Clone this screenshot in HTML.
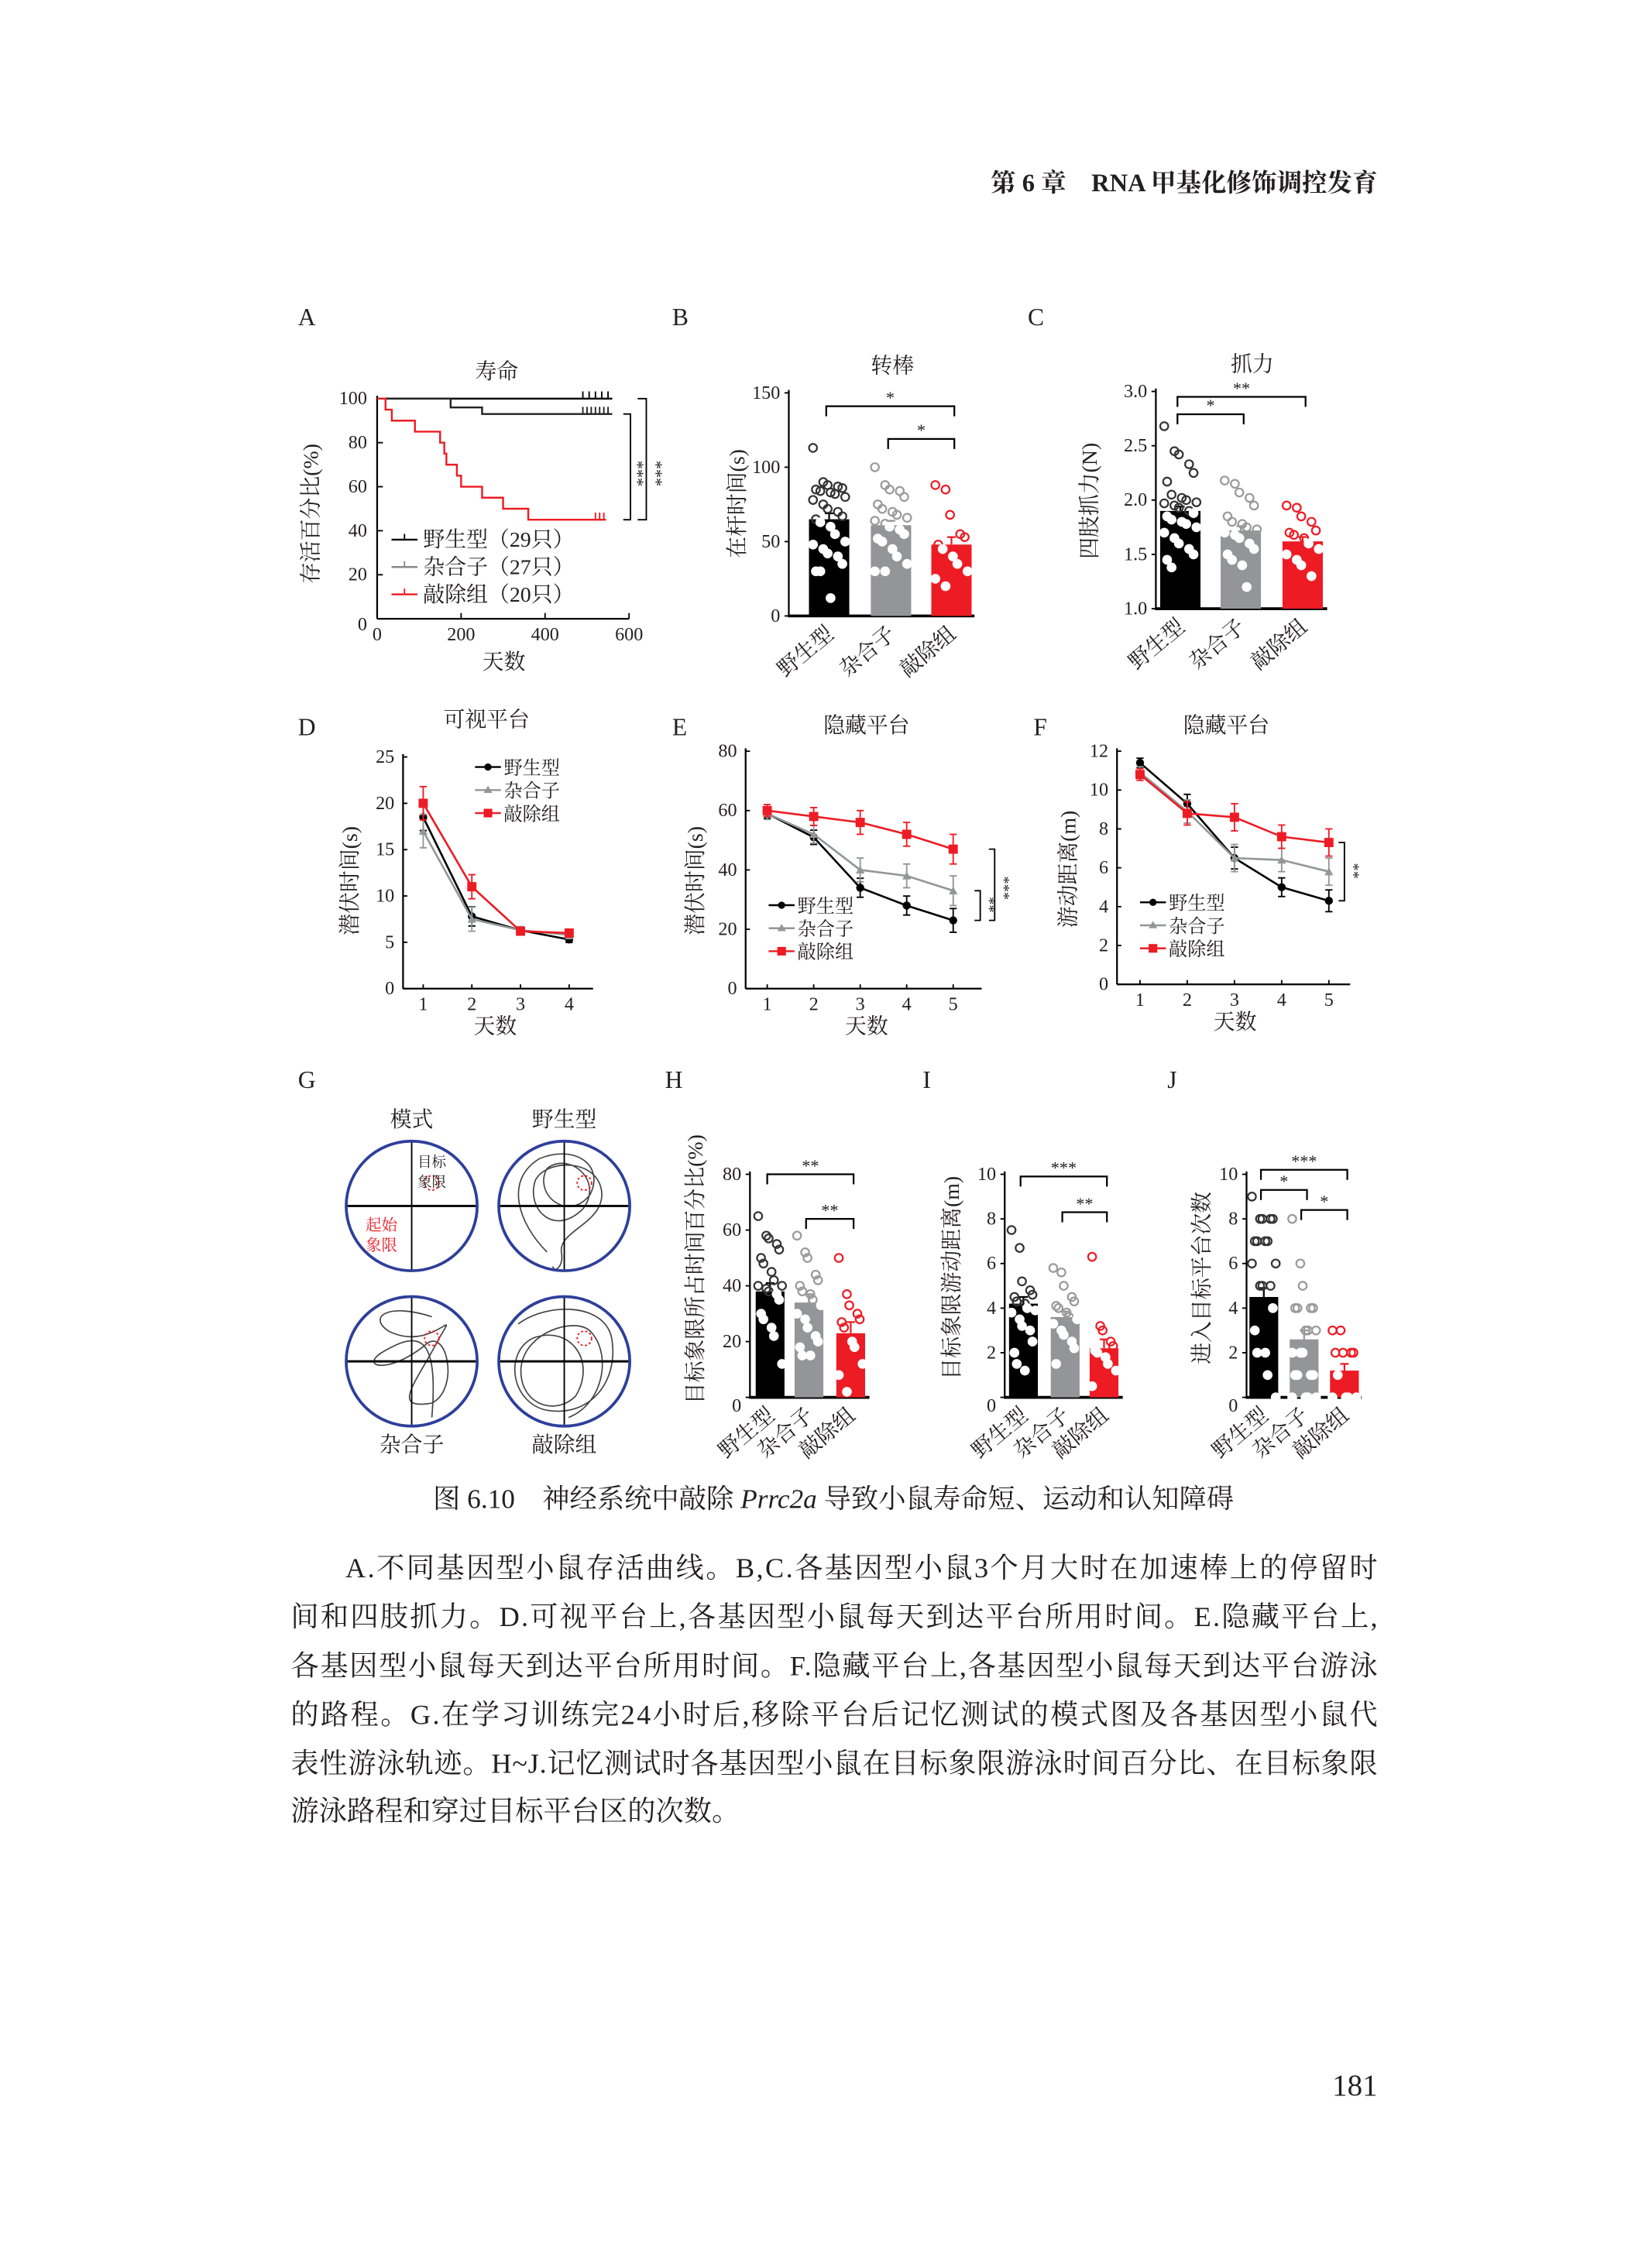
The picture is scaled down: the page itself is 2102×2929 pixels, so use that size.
<!DOCTYPE html>
<html><head><meta charset="utf-8">
<style>
html,body{margin:0;padding:0;background:#fff;}
svg{display:block;}
text{font-family:"Liberation Serif","Noto Serif CJK SC",serif;fill:#231f20;}
</style></head>
<body>
<svg id="fig" xmlns="http://www.w3.org/2000/svg" width="2102" height="2929" viewBox="0 0 1131 1576">
<text x="957" y="133" text-anchor="end" font-size="17.5" font-weight="bold">第 6 章　RNA 甲基化修饰调控发育</text>
<g font-size="17">
<text x="207" y="226">A</text><text x="467" y="226">B</text><text x="714" y="226">C</text>
<text x="207" y="511">D</text><text x="467" y="511">E</text><text x="718" y="511">F</text>
<text x="207" y="756">G</text><text x="462" y="756">H</text><text x="641" y="756">I</text><text x="811" y="756">J</text>
</g>
<g id="charts"></g>
<text x="579" y="1048" text-anchor="middle" font-size="19">图 6.10　神经系统中敲除 <tspan font-style="italic">Prrc2a</tspan> 导致小鼠寿命短、运动和认知障碍</text>
<g font-size="19.5">
<text x="240" y="1096" textLength="717" lengthAdjust="spacing">A.不同基因型小鼠存活曲线。B,C.各基因型小鼠3个月大时在加速棒上的停留时</text>
<text x="202" y="1130" textLength="755" lengthAdjust="spacing">间和四肢抓力。D.可视平台上,各基因型小鼠每天到达平台所用时间。E.隐藏平台上,</text>
<text x="202" y="1164" textLength="755" lengthAdjust="spacing">各基因型小鼠每天到达平台所用时间。F.隐藏平台上,各基因型小鼠每天到达平台游泳</text>
<text x="202" y="1198" textLength="755" lengthAdjust="spacing">的路程。G.在学习训练完24小时后,移除平台后记忆测试的模式图及各基因型小鼠代</text>
<text x="202" y="1232" textLength="755" lengthAdjust="spacing">表性游泳轨迹。H~J.记忆测试时各基因型小鼠在目标象限游泳时间百分比、在目标象限</text>
<text x="202" y="1265">游泳路程和穿过目标平台区的次数。</text>
</g>
<text x="957" y="1456" text-anchor="end" font-size="21">181</text>
</svg>
<script>
// ---------- DATA ----------
const groups = ['野生型','杂合子','敲除组'];
// Panel A survival (days, percent)
const wtDays = [0, 560];
const wtSurv = [100, 100];
const hetDays = [0, 175, 250, 560];
const hetSurv = [100, 96, 93, 93];
const koDays = [0, 20, 35, 90, 150, 160, 165, 190, 200, 250, 300, 360, 545];
const koSurv = [100, 95, 90, 85, 80, 75, 70, 65, 60, 55, 50, 45, 45];
const aTicksX = [0, 200, 400, 600];
const aTicksY = [0, 20, 40, 60, 80, 100];
// Panel B rotarod
const bMeans = [65, 61, 48];
const bSems = [4, 3, 5];
const bWT = [113,90,88,87,86,85,84,83,82,80,78,75,72,70,67,65,63,60,55,50,48,45,42,40,35,30,30,12];
const bHet = [100,88,85,84,80,75,72,70,68,66,64,62,60,58,55,52,50,45,40,35,30,30];
const bKO = [88,85,68,55,53,48,45,40,35,30,25,20];
const bTicks = [0, 50, 100, 150];
// Panel C grip
const cMeans = [1.9, 1.72, 1.62];
const cSems = [0.04, 0.04, 0.04];
const cWT = [2.68,2.45,2.42,2.33,2.25,2.17,2.05,2.02,2.0,1.98,1.97,1.95,1.93,1.9,1.88,1.85,1.82,1.8,1.78,1.75,1.7,1.65,1.6,1.55,1.5,1.45,1.38];
const cHet = [2.18,2.15,2.07,2.02,1.95,1.85,1.8,1.78,1.75,1.73,1.7,1.68,1.65,1.6,1.55,1.5,1.45,1.4,1.2];
const cKO = [1.95,1.93,1.85,1.8,1.72,1.7,1.68,1.65,1.6,1.55,1.5,1.45,1.4,1.3];
const cTicks = [1.0, 1.5, 2.0, 2.5, 3.0];
// Panel D visible platform
const dDays = [1, 2, 3, 4];
const dWT = [18.5, 7.8, 6.3, 5.3];
const dHet = [17, 7.5, 6.3, 5.8];
const dKO = [20, 11, 6.2, 6.0];
const dErr = [1.8, 1.3, 0.4, 0.4];
const dTicks = [0, 5, 10, 15, 20, 25];
// Panel E hidden platform latency
const eDays = [1, 2, 3, 4, 5];
const eWT = [59, 51, 34, 28, 23];
const eHet = [59, 52, 40, 38, 33];
const eKO = [60, 58, 56, 52, 47];
const eErr = [2, 3, 4, 4, 5];
const eTicks = [0, 20, 40, 60, 80];
// Panel F hidden platform distance
const fWT = [11.4, 9.3, 6.5, 5.0, 4.3];
const fHet = [10.9, 8.9, 6.5, 6.4, 5.8];
const fKO = [10.8, 8.8, 8.6, 7.6, 7.3];
const fErr = [0.3, 0.6, 0.7, 0.6, 0.7];
const fTicks = [0, 2, 4, 6, 8, 10, 12];
// Panel H
const hMeans = [38, 34, 23];
const hSems = [3, 3, 4];
const hWT = [65,58,57,55,53,50,48,45,42,40,40,39,38,37,35,30,28,25,22,12];
const hHet = [58,52,50,44,42,40,38,37,35,33,30,28,25,22,20,18,15,15];
const hKO = [50,37,33,30,28,27,25,20,18,12,8,2];
const hTicks = [0, 20, 40, 60, 80];
// Panel I
const iMeans = [4.2, 3.6, 2.2];
const iSems = [0.3, 0.25, 0.4];
const iWT = [7.5,6.7,5.2,4.8,4.6,4.5,4.3,4.2,4.0,3.9,3.8,3.5,3.2,3.0,2.5,2.0,1.5,1.2];
const iHet = [5.8,5.6,5.0,4.5,4.3,4.1,4.0,3.8,3.6,3.5,3.3,3.0,2.8,2.5,2.2,1.5];
const iKO = [6.3,3.2,3.0,2.5,2.3,2.1,2.0,1.8,1.5,1.2,0.5];
const iTicks = [0, 2, 4, 6, 8, 10];
// Panel J
const jMeans = [4.5, 2.6, 1.2];
const jSems = [0.4, 0.4, 0.3];
const jWT = [9,8,8,8,8,7,7,7,7,6,6,5,5,5,4,3,2,2,1,0];
const jHet = [8,6,5,4,4,4,4,3,3,3,2,2,2,1,1,1,1,0,0,0,0];
const jKO = [3,3,2,2,2,2,1,0,0,0,0];
const jTicks = [0, 2, 4, 6, 8, 10];

// ---------- HELPERS ----------
const NS = 'http://www.w3.org/2000/svg';
const root = document.getElementById('charts');
const RED = '#ed1c24', GRAY = '#939598', BLACK = '#000';
const DOTC = ['#333', '#9a9a9a', RED];
const BARC = [BLACK, GRAY, RED];
function mk(tag, attrs, parent) {
  const e = document.createElementNS(NS, tag);
  for (const k in attrs) e.setAttribute(k, attrs[k]);
  (parent || root).appendChild(e);
  return e;
}
function txt(str, x, y, size, parent, extra) {
  const t = mk('text', Object.assign({x: x, y: y, 'font-size': size}, extra || {}), parent);
  t.textContent = str;
  return t;
}
function group(name) {
  const g = mk('g', {});
  
  
  return g;
}
function vlabel(str, x, cy, size, g) {
  const t = txt(str, x, cy, size, g, {'text-anchor': 'middle', transform: 'rotate(-90 ' + x + ' ' + cy + ')'});
  
  
}

// ---------- PANEL A ----------
(function () {
  const g = group('survival-chart');
  const x0 = 262, x1 = 455, y0 = 430, yTop = 277;
  const sx = d => x0 + d / 600 * (437 - x0);
  const sy = v => y0 - v / 100 * (y0 - yTop);
  mk('line', {x1: x0, y1: yTop - 2, x2: x0, y2: y0, stroke: '#000', 'stroke-width': 1.2}, g);
  mk('line', {x1: x0, y1: y0, x2: 437, y2: y0, stroke: '#000', 'stroke-width': 1.2}, g);
  aTicksX.forEach(d => {
    mk('line', {x1: sx(d), y1: y0, x2: sx(d), y2: y0 - 4, stroke: '#000'}, g);
    const t = txt(String(d), sx(d), y0 + 15, 13, g, {'text-anchor': 'middle'});
    
    
  });
  aTicksY.forEach(v => {
    mk('line', {x1: x0, y1: sy(v), x2: x0 + 4, y2: sy(v), stroke: '#000'}, g);
    const t = txt(String(v), x0 - 7, sy(v) + (v === 0 ? 8 : 4), 13, g, {'text-anchor': 'end'});
    
    
  });
  function step(days, surv, color, name, censor) {
    let d = 'M' + sx(days[0]) + ' ' + sy(surv[0]);
    for (let i = 1; i < days.length; i++) d += ' H' + sx(days[i]) + ' V' + sy(surv[i]);
    const p = mk('path', {d: d, fill: 'none', stroke: color, 'stroke-width': 1.3}, g);
    
    
    const last = surv[surv.length - 1];
    censor.forEach(c => mk('line', {x1: sx(c), y1: sy(last), x2: sx(c), y2: sy(last) - 5, stroke: color, 'stroke-width': 1}, g));
  }
  step(wtDays, wtSurv, '#000', 'survival-line-wt', [490, 505, 520, 535, 550]);
  step(hetDays, hetSurv, '#222', 'survival-line-het', [490, 500, 510, 520, 530, 540, 550]);
  step(koDays, koSurv, RED, 'survival-line-ko', [520, 530, 540]);
  mk('path', {d: 'M443 ' + sy(100) + ' H449 V' + sy(45) + ' H443', fill: 'none', stroke: '#000'}, g);
  mk('path', {d: 'M433 ' + sy(93) + ' H438 V' + sy(45) + ' H433', fill: 'none', stroke: '#000'}, g);
  txt('***', 452, 320, 12, g, {transform: 'rotate(90 452 320)'});
  txt('***', 439, 320, 12, g, {transform: 'rotate(90 439 320)'});
  const tt = txt('寿命', 345, 263, 15, g, {'text-anchor': 'middle'});
  
  
  vlabel('存活百分比(%)', 221, 357, 15, g);
  const xl = txt('天数', 350, 465, 15, g, {'text-anchor': 'middle'});
  
  
  const leg = [['野生型（29只）', '#000'], ['杂合子（27只）', '#888'], ['敲除组（20只）', RED]];
  leg.forEach((l, i) => {
    const y = 375 + i * 19;
    mk('line', {x1: 272, y1: y, x2: 290, y2: y, stroke: l[1], 'stroke-width': 1.3}, g);
    mk('line', {x1: 281, y1: y, x2: 281, y2: y - 4, stroke: l[1]}, g);
    const t = txt(l[0], 294, y + 5, 15, g);
    
    
  });
})();

// ---------- BAR CHARTS ----------
function barChart(c) {
  const g = group(c.name);
  const sy = v => c.y0 - (v - c.vmin) / (c.vmax - c.vmin) * (c.y0 - c.yTop);
  mk('line', {x1: c.ax, y1: c.yTop - 2, x2: c.ax, y2: c.y0 + 1, stroke: '#000', 'stroke-width': 1.2}, g);
  mk('line', {x1: c.ax, y1: c.y0, x2: c.xEnd, y2: c.y0, stroke: '#000', 'stroke-width': 2}, g);
  c.ticks.forEach(v => {
    mk('line', {x1: c.ax - 3, y1: sy(v), x2: c.ax, y2: sy(v), stroke: '#000'}, g);
    const t = txt(c.fmt ? v.toFixed(1) : String(v), c.ax - 6, sy(v) + (v === c.vmin && c.lowZero ? 10 : 4), 13, g, {'text-anchor': 'end'});
    
    
  });
  const pts = [c.p0, c.p1, c.p2];
  for (let i = 0; i < 3; i++) {
    const cx = c.centers[i], hw = c.bw / 2;
    const r = mk('rect', {x: cx - hw, y: sy(c.means[i]), width: c.bw, height: c.y0 - sy(c.means[i]), fill: BARC[i]}, g);
    
    
    const ec = i === 0 ? '#000' : BARC[i];
    mk('line', {x1: cx, y1: sy(c.means[i] + c.sems[i]), x2: cx, y2: sy(c.means[i]), stroke: ec, 'stroke-width': 1.2}, g);
    mk('line', {x1: cx - 3, y1: sy(c.means[i] + c.sems[i]), x2: cx + 3, y2: sy(c.means[i] + c.sems[i]), stroke: ec, 'stroke-width': 1.2}, g);
    pts[i].forEach((v, k) => {
      const off = ((k % 5) - 2) * (c.bw / 5.5) + ((k % 2) ? 1 : -1);
      const inside = v < c.means[i];
      const dot = mk('circle', {cx: cx + off, cy: sy(v), r: 2.8,
        fill: inside ? '#fff' : 'none', stroke: inside ? '#fff' : DOTC[i], 'stroke-width': 1.2}, g);
      
      
    });
    const lx = cx + 4, ly = c.y0 + 14;
    const t = txt(groups[i], lx, ly, 15, g, {'text-anchor': 'end', transform: 'rotate(-40 ' + lx + ' ' + ly + ')'});
    
    
  }
  c.brackets.forEach(b => {
    const y = sy(b.v);
    mk('path', {d: 'M' + (c.centers[b.a] - 2) + ' ' + (y + 7) + ' V' + y + ' H' + (c.centers[b.b] + 2) + ' V' + (y + 7), fill: 'none', stroke: '#000', 'stroke-width': 1.2}, g);
    const s = txt(b.label, (c.centers[b.a] + c.centers[b.b]) / 2, y - 2, 12, g, {'text-anchor': 'middle'});
    
    
  });
  if (c.title) {
    const tt = txt(c.title, c.titleX, c.titleY, 15, g, {'text-anchor': 'middle'});
    
    
  }
  vlabel(c.ylabel, c.ylx, c.yly, 15, g);
}
barChart({name: 'rotarod-bar-chart', ax: 548, xEnd: 677, y0: 428, yTop: 273, vmin: 0, vmax: 150, ticks: bTicks,
  centers: [576, 619, 661], bw: 28, means: bMeans, sems: bSems, p0: bWT, p1: bHet, p2: bKO,
  brackets: [{a: 0, b: 2, v: 141, label: '*'}, {a: 1, b: 2, v: 119, label: '*'}],
  title: '转棒', titleX: 620, titleY: 259, ylabel: '在杆时间(s)', ylx: 517, yly: 350});
barChart({name: 'grip-bar-chart', ax: 803, xEnd: 922, y0: 423, yTop: 272, vmin: 1.0, vmax: 3.0, ticks: cTicks, fmt: true,
  centers: [820, 862, 905], bw: 28, means: cMeans, sems: cSems, p0: cWT, p1: cHet, p2: cKO,
  brackets: [{a: 0, b: 2, v: 2.95, label: '**'}, {a: 0, b: 1, v: 2.79, label: '*'}],
  title: '抓力', titleX: 870, titleY: 258, ylabel: '四肢抓力(N)', ylx: 762, yly: 348});
barChart({name: 'quadrant-time-bar-chart', ax: 521, xEnd: 604, y0: 971, yTop: 816, vmin: 0, vmax: 80, ticks: hTicks, lowZero: true,
  centers: [535, 562, 591], bw: 20, means: hMeans, sems: hSems, p0: hWT, p1: hHet, p2: hKO,
  brackets: [{a: 0, b: 2, v: 80, label: '**'}, {a: 1, b: 2, v: 64, label: '**'}],
  ylabel: '目标象限所占时间百分比(%)', ylx: 488, yly: 882});
barChart({name: 'quadrant-distance-bar-chart', ax: 698, xEnd: 780, y0: 971, yTop: 816, vmin: 0, vmax: 10, ticks: iTicks, lowZero: true,
  centers: [711, 740, 767], bw: 20, means: iMeans, sems: iSems, p0: iWT, p1: iHet, p2: iKO,
  brackets: [{a: 0, b: 2, v: 9.9, label: '***'}, {a: 1, b: 2, v: 8.3, label: '**'}],
  ylabel: '目标象限游动距离(m)', ylx: 666, yly: 888});
barChart({name: 'platform-crossings-bar-chart', ax: 866, xEnd: 946, y0: 971, yTop: 816, vmin: 0, vmax: 10, ticks: jTicks, lowZero: true,
  centers: [878, 906, 934], bw: 20, means: jMeans, sems: jSems, p0: jWT, p1: jHet, p2: jKO,
  brackets: [{a: 0, b: 2, v: 10.2, label: '***'}, {a: 0, b: 1, v: 9.3, label: '*'}, {a: 1, b: 2, v: 8.4, label: '*'}],
  ylabel: '进入目标平台次数', ylx: 840, yly: 888});

// ---------- LINE CHARTS ----------
function lineChart(c) {
  const g = group(c.name);
  const sx = d => c.x1st + (d - c.days[0]) * c.dx;
  const sy = v => c.y0 - v / c.vmax * (c.y0 - c.yTop);
  mk('line', {x1: c.ax, y1: c.yTop - 2, x2: c.ax, y2: c.y0, stroke: '#000', 'stroke-width': 1.2}, g);
  mk('line', {x1: c.ax, y1: c.y0, x2: c.xEnd, y2: c.y0, stroke: '#000', 'stroke-width': 1.2}, g);
  c.ticks.forEach(v => {
    mk('line', {x1: c.ax, y1: sy(v), x2: c.ax + 3, y2: sy(v), stroke: '#000'}, g);
    const t = txt(String(v), c.ax - 6, sy(v) + 4, 13, g, {'text-anchor': 'end'});
    
    
  });
  c.days.forEach(d => {
    mk('line', {x1: sx(d), y1: c.y0, x2: sx(d), y2: c.y0 - 3, stroke: '#000'}, g);
    const t = txt(String(d), sx(d), c.y0 + 15, 13, g, {'text-anchor': 'middle'});
    
    
  });
  const series = [[c.wt, '#000', 'circle', 'line-wt'], [c.het, GRAY, 'tri', 'line-het'], [c.ko, RED, 'sq', 'line-ko']];
  series.forEach(s => {
    const vals = s[0];
    vals.forEach((v, i) => {
      const e = c.err[i] * (s[2] === 'circle' ? 0.8 : 1);
      mk('line', {x1: sx(c.days[i]), y1: sy(v - e), x2: sx(c.days[i]), y2: sy(v + e), stroke: s[1]}, g);
      mk('line', {x1: sx(c.days[i]) - 2.5, y1: sy(v + e), x2: sx(c.days[i]) + 2.5, y2: sy(v + e), stroke: s[1]}, g);
      mk('line', {x1: sx(c.days[i]) - 2.5, y1: sy(v - e), x2: sx(c.days[i]) + 2.5, y2: sy(v - e), stroke: s[1]}, g);
    });
    const pl = mk('polyline', {points: vals.map((v, i) => sx(c.days[i]) + ',' + sy(v)).join(' '), fill: 'none', stroke: s[1], 'stroke-width': 1.4}, g);
    
    
    vals.forEach((v, i) => {
      const x = sx(c.days[i]), y = sy(v);
      let m;
      if (s[2] === 'circle') m = mk('circle', {cx: x, cy: y, r: 2.8, fill: s[1]}, g);
      else if (s[2] === 'tri') m = mk('polygon', {points: (x) + ',' + (y - 3) + ' ' + (x - 3) + ',' + (y + 2.5) + ' ' + (x + 3) + ',' + (y + 2.5), fill: s[1]}, g);
      else m = mk('rect', {x: x - 3.2, y: y - 3.2, width: 6.4, height: 6.4, fill: s[1]}, g);
      
      
    });
  });
  const names = ['野生型', '杂合子', '敲除组'];
  series.forEach((s, i) => {
    const y = c.legY + i * 16, x = c.legX;
    mk('line', {x1: x, y1: y, x2: x + 18, y2: y, stroke: s[1], 'stroke-width': 1.3}, g);
    if (s[2] === 'circle') mk('circle', {cx: x + 9, cy: y, r: 2.5, fill: s[1]}, g);
    else if (s[2] === 'tri') mk('polygon', {points: (x + 9) + ',' + (y - 3) + ' ' + (x + 6) + ',' + (y + 2) + ' ' + (x + 12) + ',' + (y + 2), fill: s[1]}, g);
    else mk('rect', {x: x + 6, y: y - 3, width: 6, height: 6, fill: s[1]}, g);
    const t = txt(names[i], x + 20, y + 5, 13, g);
    
    
  });
  (c.sig || []).forEach(b => {
    mk('path', {d: 'M' + (b.x - 4) + ' ' + sy(b.v1) + ' H' + b.x + ' V' + sy(b.v2) + ' H' + (b.x - 4), fill: 'none', stroke: '#000'}, g);
    txt(b.label, b.x + 3, (sy(b.v1) + sy(b.v2)) / 2 - 6, 11, g, {transform: 'rotate(90 ' + (b.x + 3) + ' ' + ((sy(b.v1) + sy(b.v2)) / 2 - 6) + ')'});
  });
  const tt = txt(c.title, c.titleX, c.titleY, 15, g, {'text-anchor': 'middle'});
  
  
  const xl = txt('天数', c.xlX, c.y0 + 31, 15, g, {'text-anchor': 'middle'});
  
  
  vlabel(c.ylabel, c.ylx, c.yly, 15, g);
}
lineChart({name: 'visible-platform-chart', ax: 280, xEnd: 412, x1st: 294, dx: 33.8, days: dDays, y0: 687, yTop: 526, vmax: 25, ticks: dTicks,
  wt: dWT, het: dHet, ko: dKO, err: dErr, legX: 330, legY: 533, title: '可视平台', titleX: 338, titleY: 505,
  xlX: 344, ylabel: '潜伏时间(s)', ylx: 248, yly: 612});
lineChart({name: 'hidden-platform-latency-chart', ax: 518, xEnd: 682, x1st: 533, dx: 32.3, days: eDays, y0: 687, yTop: 522, vmax: 80, ticks: eTicks,
  wt: eWT, het: eHet, ko: eKO, err: eErr, legX: 534, legY: 629, title: '隐藏平台', titleX: 602, titleY: 509,
  xlX: 602, ylabel: '潜伏时间(s)', ylx: 488, yly: 612,
  sig: [{x: 681, v1: 33, v2: 23, label: '**'}, {x: 691, v1: 47, v2: 23, label: '***'}]});
lineChart({name: 'hidden-platform-distance-chart', ax: 776, xEnd: 938, x1st: 792, dx: 32.8, days: eDays, y0: 684, yTop: 522, vmax: 12, ticks: fTicks,
  wt: fWT, het: fHet, ko: fKO, err: fErr, legX: 792, legY: 627, title: '隐藏平台', titleX: 852, titleY: 509,
  xlX: 858, ylabel: '游动距离(m)', ylx: 747, yly: 604,
  sig: [{x: 934, v1: 7.3, v2: 4.3, label: '**'}]});

// ---------- PANEL G ----------
(function () {
  const g = group('swim-trajectories');
  const pools = [[286, 838, '模式', 'pool-schematic'], [392, 838, '野生型', 'pool-wt'], [286, 946, '杂合子', 'pool-het'], [392, 946, '敲除组', 'pool-ko']];
  const paths = [
    null,
    'M380 870 C360 850 350 820 375 805 C400 795 420 810 410 830 C395 850 370 830 380 812 C395 800 420 820 405 840 C385 860 365 840 372 820 C380 805 415 805 418 828 C420 850 388 855 390 870 C392 880 385 885 384 880',
    'M300 915 C270 905 255 915 270 925 C300 940 320 905 305 930 C290 960 270 980 300 975 C320 965 310 920 295 935 C270 955 250 950 265 940 C290 925 305 925 300 985',
    'M360 920 C380 905 420 905 425 930 C430 960 410 985 380 980 C355 975 350 940 370 930 C395 920 415 945 400 970 C385 985 360 975 362 950 C365 925 400 915 410 925 C425 940 420 975 395 985'
  ];
  pools.forEach((p, i) => {
    const [cx, cy, label, name] = p;
    const pg = mk('g', {}, g);
    
    
    if (paths[i]) mk('path', {d: paths[i], fill: 'none', stroke: '#444', 'stroke-width': 0.9}, pg);
    mk('line', {x1: cx - 45, y1: cy, x2: cx + 45, y2: cy, stroke: '#000', 'stroke-width': 1.6}, pg);
    mk('line', {x1: cx, y1: cy - 45, x2: cx, y2: cy + 45, stroke: '#000', 'stroke-width': 1}, pg);
    mk('ellipse', {cx: cx, cy: cy, rx: 45.5, ry: 45, fill: 'none', stroke: '#2e3f9a', 'stroke-width': 2}, pg);
    mk('circle', {cx: cx + 14, cy: cy - 16, r: 5, fill: 'none', stroke: RED, 'stroke-width': 1, 'stroke-dasharray': '1.5 1.5'}, pg);
    const t = txt(label, cx, i < 2 ? 783 : 1009, 15, g, {'text-anchor': 'middle'});
    
    
  });
  txt('目标', 290, 811, 10, g, {fill: '#555'});
  txt('象限', 290, 825, 10, g, {fill: '#555'});
  txt('起始', 254, 855, 11, g, {fill: RED, style: 'fill:' + RED});
  txt('象限', 254, 869, 11, g, {fill: RED, style: 'fill:' + RED});
})();
</script>
</body></html>
